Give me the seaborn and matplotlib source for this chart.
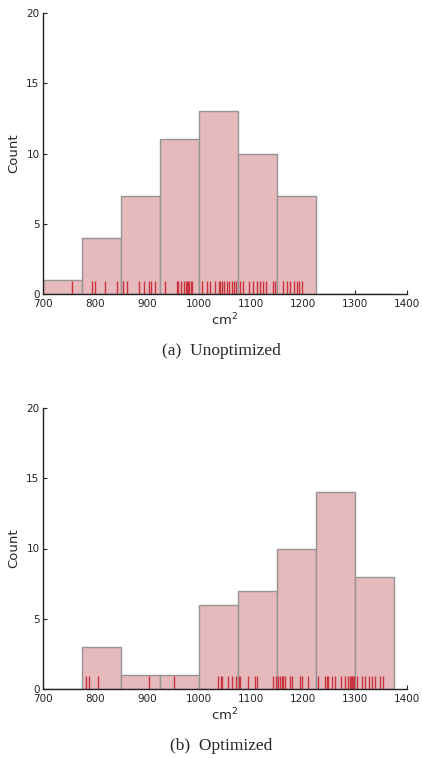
import numpy as np
import matplotlib
matplotlib.use("Agg")
import matplotlib.pyplot as plt
import seaborn as sns

# Floor area samples (cm^2) for each configuration
unoptimized = [
    756,
    794, 800, 820, 843,
    853, 862, 884, 894, 903, 908, 915,
    935, 957, 960, 965, 971, 975, 977, 979, 981, 984, 987,
    1006, 1015, 1021, 1031, 1038, 1041, 1044, 1048, 1053, 1058, 1063, 1067, 1072,
    1078, 1084, 1097, 1103, 1111, 1118, 1124, 1129, 1142, 1146,
    1162, 1169, 1175, 1183, 1188, 1193, 1198,
]
optimized = [
    783, 789, 806,
    904,
    952,
    1036, 1042, 1044, 1056, 1063, 1072,
    1076, 1079, 1095, 1108, 1111, 1143, 1148,
    1152, 1156, 1159, 1162, 1165, 1175, 1178, 1194, 1198, 1210,
    1229, 1242, 1246, 1249, 1255, 1262, 1274, 1281, 1287, 1290, 1293, 1295, 1297, 1299,
    1303, 1313, 1320, 1326, 1332, 1338, 1348, 1354,
]
captions = ["(a)  Unoptimized", "(b)  Optimized"]
bin_edges = [700, 775, 850, 925, 1000, 1075, 1150, 1225, 1300, 1375]
x_ticks = [700, 800, 900, 1000, 1100, 1200, 1300, 1400]
y_ticks = [0, 5, 10, 15, 20]

sns.set_style("ticks")
plt.rcParams["font.family"] = ["DejaVu Sans"]

fig = plt.figure(figsize=(4.22, 7.58), dpi=100)
W, H = 422, 758
axes_px = [(43, 13, 407, 294), (43, 408, 407, 689)]
caption_y = [351, 746]

bar_face = "#e6b9bc"
bar_edge = "#959595"
rug_color = "#c9343f"

for data, cap, cy, (l, t, r, b) in zip([unoptimized, optimized], captions,
                                       caption_y, axes_px):
    ax = fig.add_axes([l / W, 1 - b / H, (r - l) / W, (b - t) / H])
    sns.histplot(x=data, bins=bin_edges, ax=ax, color=bar_face, alpha=1.0,
                 edgecolor=bar_edge, linewidth=1.0)
    sns.rugplot(x=data, ax=ax, height=0.047, color=rug_color, linewidth=1.0)
    ax.set_xlim(700, 1400)
    ax.set_ylim(0, 20)
    ax.set_xticks(x_ticks)
    ax.set_yticks(y_ticks)
    ax.tick_params(direction="in", length=3, width=0.8, labelsize=7.5,
                   colors="#222222")
    ax.tick_params(axis="x", pad=3.5)
    ax.tick_params(axis="y", pad=2.5)
    for side in ("top", "right"):
        ax.spines[side].set_visible(False)
    for side in ("left", "bottom"):
        ax.spines[side].set_color("#222222")
        ax.spines[side].set_linewidth(1.0)
    ax.set_xlabel("cm$^2$", fontsize=9.5, labelpad=2)
    ax.set_ylabel("Count", fontsize=9.5, labelpad=4)
    fig.text(221 / W, 1 - cy / H, cap, ha="center", va="center",
             fontsize=12.5, family="Liberation Serif")

fig.savefig("out.png", dpi=100)
